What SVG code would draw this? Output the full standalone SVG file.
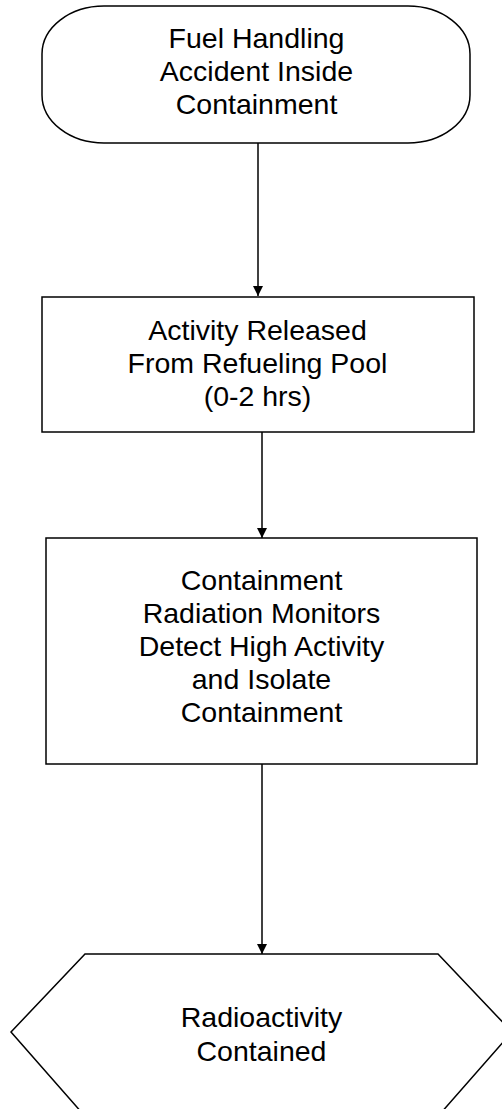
<svg xmlns="http://www.w3.org/2000/svg" width="502" height="1109" viewBox="0 0 502 1109">
  <style>
    .shape { fill: #ffffff; stroke: #000000; stroke-width: 1.5; }
    .label { font-family: "Liberation Sans", Arial, sans-serif; font-size: 28.5px; fill: #000000; text-anchor: middle; }
    .conn { fill: none; stroke: #000000; stroke-width: 1.5; }
  </style>
  <defs>
    <marker id="arrow" viewBox="0 0 10 10" refX="10" refY="5" markerWidth="10" markerHeight="10" markerUnits="userSpaceOnUse" orient="auto">
      <path d="M0,0 L10,5 L0,10 Z" fill="#000000"/>
    </marker>
  </defs>
  <rect width="502" height="1109" fill="#ffffff"/>

  <g id="connectors">
    <line class="conn" x1="258" y1="143" x2="258" y2="296" marker-end="url(#arrow)"/>
    <line class="conn" x1="262" y1="432" x2="262" y2="538" marker-end="url(#arrow)"/>
    <line class="conn" x1="262" y1="764" x2="262" y2="954" marker-end="url(#arrow)"/>
  </g>

  <g id="node-start">
    <rect class="shape" x="42" y="6" width="428" height="137" rx="62" ry="48"/>
    <text class="label" x="256.5" y="48">Fuel Handling</text>
    <text class="label" x="256.5" y="81">Accident Inside</text>
    <text class="label" x="256.5" y="114">Containment</text>
  </g>

  <g id="node-release">
    <rect class="shape" x="42" y="297" width="432" height="135"/>
    <text class="label" x="257.5" y="340">Activity Released</text>
    <text class="label" x="257.5" y="373">From Refueling Pool</text>
    <text class="label" x="257.5" y="406">(0-2 hrs)</text>
  </g>

  <g id="node-isolate">
    <rect class="shape" x="46" y="538" width="431" height="226"/>
    <text class="label" x="261.5" y="590">Containment</text>
    <text class="label" x="261.5" y="623">Radiation Monitors</text>
    <text class="label" x="261.5" y="656">Detect High Activity</text>
    <text class="label" x="261.5" y="689">and Isolate</text>
    <text class="label" x="261.5" y="722">Containment</text>
  </g>

  <g id="node-end">
    <polygon class="shape" points="85,954 438,954 512,1032 440,1114 83,1114 11,1032"/>
    <text class="label" x="261.5" y="1027">Radioactivity</text>
    <text class="label" x="261.5" y="1061">Contained</text>
  </g>
</svg>
